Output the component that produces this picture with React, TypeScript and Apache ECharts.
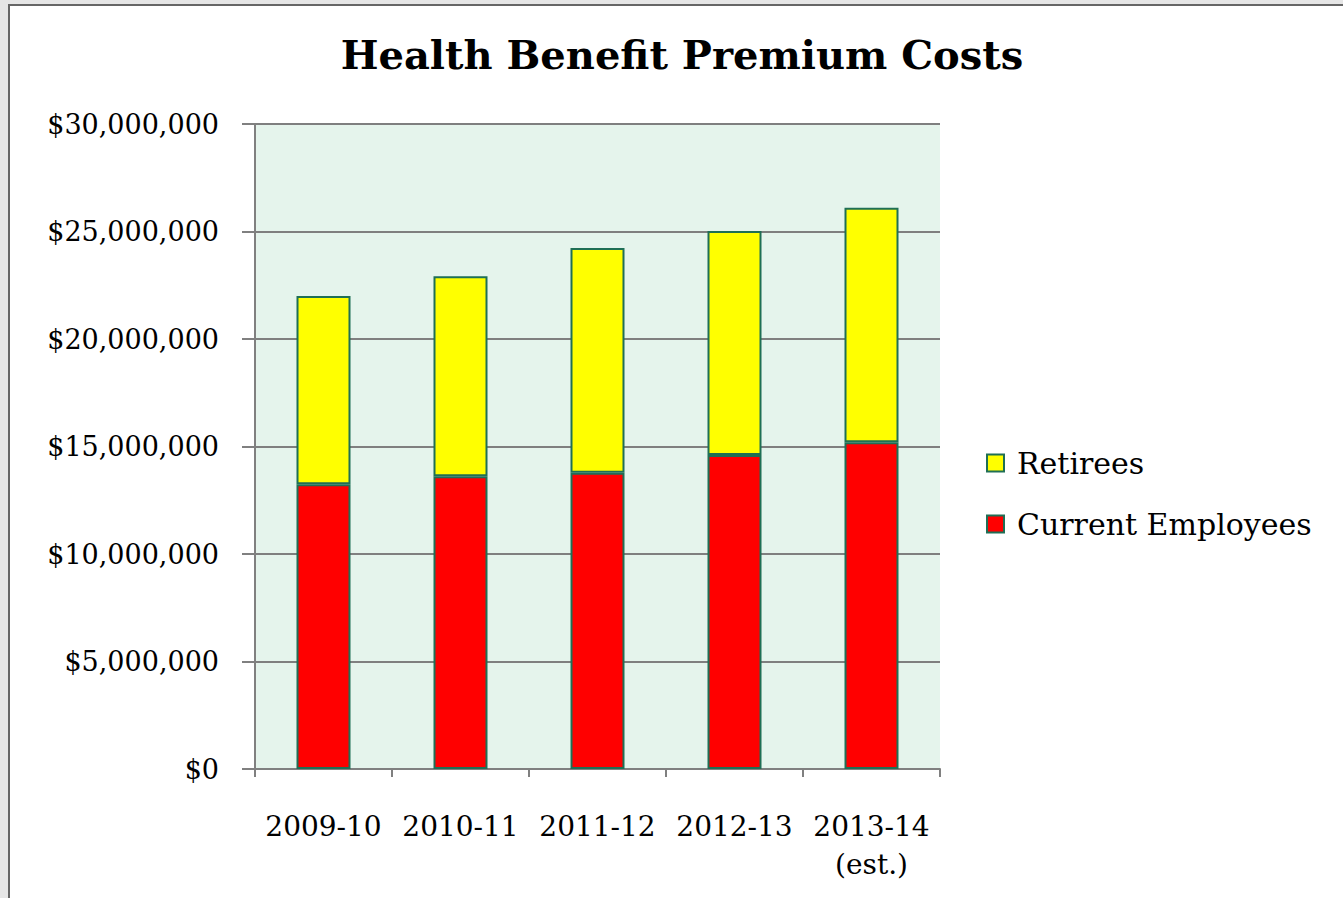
import React, { useEffect, useRef } from "react";
import * as echarts from "echarts";

const categories = ["2009-10", "2010-11", "2011-12", "2012-13", "2013-14\n(est.)"];
const currentEmployees = [13250000, 13620000, 13780000, 14600000, 15200000];
const retirees = [8750000, 9300000, 10450000, 10420000, 10900000];
const yTicks = [0, 5000000, 10000000, 15000000, 20000000, 25000000, 30000000];

const FONT = "DejaVu Serif";

export default function App() {
  const ref = useRef<HTMLDivElement>(null);
  useEffect(() => {
    if (!ref.current) return;
    const chart = echarts.init(ref.current, undefined, { renderer: "svg" });
    const fmt = (v: number) => "$" + v.toLocaleString("en-US");
    chart.setOption({
      animation: false,
      textStyle: { fontFamily: FONT, color: "#000" },
      title: {
        text: "Health Benefit Premium Costs",
        left: 677,
        textAlign: "center",
        top: 29,
        textStyle: { fontFamily: FONT, fontSize: 40, fontWeight: "bold", color: "#000" },
      },
      legend: {
        orient: "vertical",
        left: 986,
        top: 448,
        padding: 0,
        itemWidth: 17,
        itemHeight: 17,
        itemGap: 31,
        icon: "rect",
        data: ["Retirees", "Current Employees"],
        textStyle: { fontFamily: FONT, fontSize: 30, color: "#000", padding: [0, 0, 0, 8] },
      },
      grid: {
        left: 255,
        right: 403,
        top: 124,
        bottom: 129,
        show: true,
        backgroundColor: "#E5F4EC",
        borderWidth: 0,
      },
      xAxis: {
        type: "category",
        data: categories,
        boundaryGap: true,
        axisLine: { show: true, lineStyle: { color: "#808080", width: 2 } },
        axisTick: { show: true, length: 8, alignWithLabel: false, lineStyle: { color: "#808080", width: 2 } },
        axisLabel: {
          fontFamily: FONT,
          fontSize: 28,
          color: "#000",
          margin: 38,
          lineHeight: 38,
          interval: 0,
        },
      },
      yAxis: {
        type: "value",
        min: 0,
        max: 30000000,
        interval: 5000000,
        axisLine: { show: true, lineStyle: { color: "#808080", width: 2 } },
        axisTick: { show: true, length: 13, lineStyle: { color: "#808080", width: 2 } },
        splitLine: { show: true, lineStyle: { color: "#7f7f7f", width: 2 } },
        axisLabel: {
          fontFamily: FONT,
          fontSize: 27,
          color: "#000",
          margin: 36,
          formatter: (v: number) => (yTicks.includes(v) ? fmt(v) : ""),
        },
      },
      series: [
        {
          name: "Current Employees",
          type: "bar",
          stack: "total",
          barWidth: 54,
          data: currentEmployees,
          itemStyle: { color: "#FF0000", borderColor: "#1F6F55", borderWidth: 2 },
        },
        {
          name: "Retirees",
          type: "bar",
          stack: "total",
          barWidth: 54,
          data: retirees,
          itemStyle: { color: "#FFFF00", borderColor: "#1F6F55", borderWidth: 2 },
        },
      ],
    });
    return () => chart.dispose();
  }, []);

  return (
    <div style={{ position: "fixed", left: 0, top: 0, width: 1343, height: 898, background: "#e6e6e6", overflow: "hidden" }}>
      <div
        style={{
          position: "absolute",
          left: 8,
          top: 4,
          width: 1400,
          height: 1000,
          background: "#ffffff",
          borderLeft: "2px solid #666",
          borderTop: "2px solid #666",
        }}
      />
      <div ref={ref} style={{ position: "absolute", left: 0, top: 0, width: 1343, height: 898 }} />
    </div>
  );
}
